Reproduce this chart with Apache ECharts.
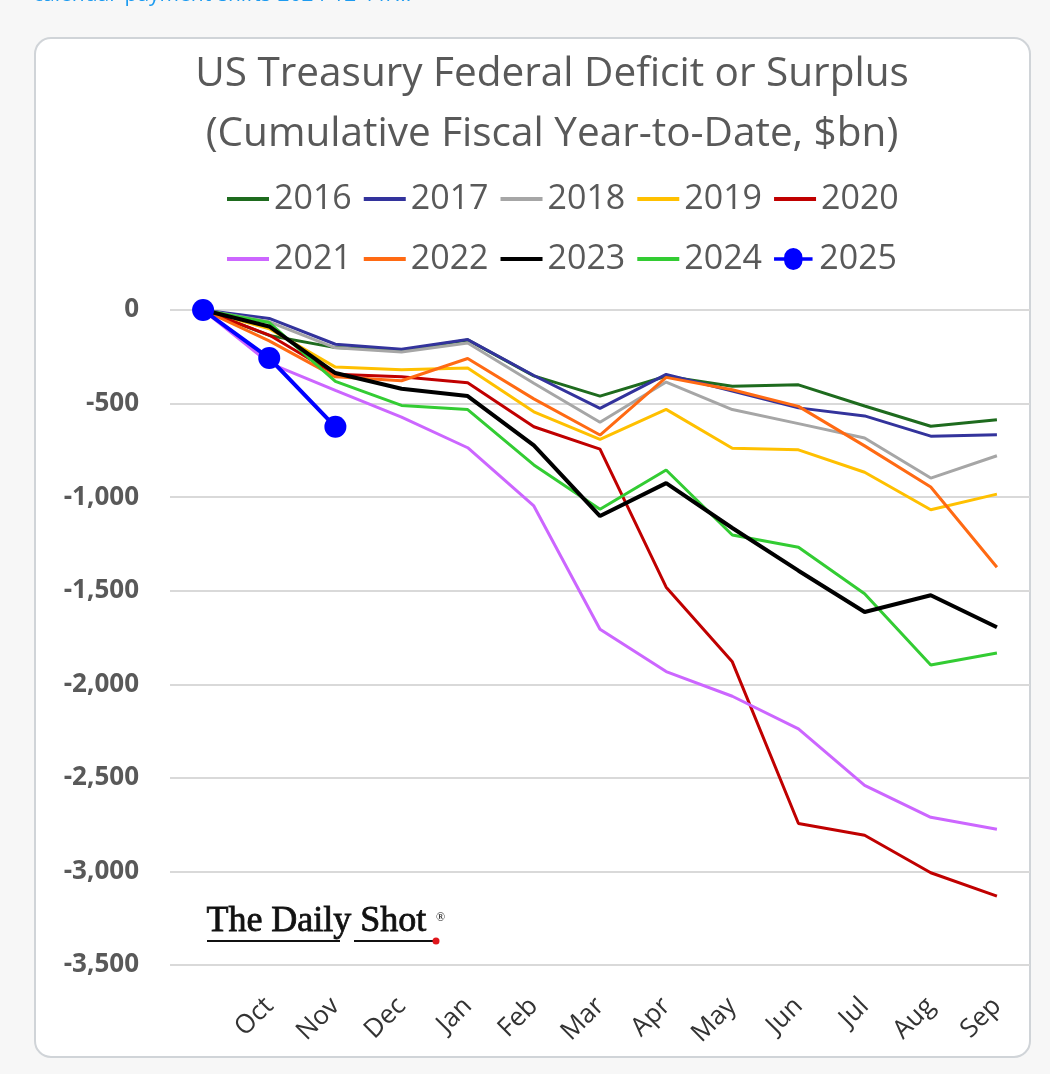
<!DOCTYPE html>
<html><head><meta charset="utf-8">
<script src="https://cdn.jsdelivr.net/npm/echarts@6/dist/echarts.min.js"></script>
<style>html,body{margin:0;padding:0;background:#f7f7f7;}#c{width:1050px;height:1074px;}</style>
</head><body><div id="c"></div>
<script>
var categories = ['', 'Oct', 'Nov', 'Dec', 'Jan', 'Feb', 'Mar', 'Apr', 'May', 'Jun', 'Jul', 'Aug', 'Sep'];
var yTicks = [0, -500, -1000, -1500, -2000, -2500, -3000, -3500];
var years = ['2016','2017','2018','2019','2020','2021','2022','2023','2024','2025'];
var fy2016 = [0, -136, -201, -215, -160, -352, -460, -354, -407, -400, -513, -621, -587];
var fy2017 = [0, -45, -183, -210, -158, -350, -526, -344, -433, -523, -566, -674, -666];
var fy2018 = [0, -63, -202, -225, -176, -391, -600, -385, -532, -607, -684, -898, -779];
var fy2019 = [0, -100, -305, -319, -310, -544, -691, -531, -739, -747, -867, -1067, -984];
var fy2020 = [0, -134, -343, -357, -389, -624, -743, -1481, -1880, -2744, -2807, -3007, -3132];
var fy2021 = [0, -284, -429, -573, -736, -1047, -1706, -1932, -2064, -2238, -2540, -2711, -2775];
var fy2022 = [0, -165, -357, -378, -259, -475, -668, -360, -426, -515, -726, -946, -1375];
var fy2023 = [0, -88, -337, -421, -460, -723, -1101, -925, -1165, -1393, -1614, -1524, -1695];
var fy2024 = [0, -67, -381, -510, -532, -828, -1065, -855, -1202, -1268, -1516, -1897, -1833];
var fy2025 = [0, -257, -624];

var seriesData = [fy2016, fy2017, fy2018, fy2019, fy2020, fy2021, fy2022, fy2023, fy2024, fy2025];
var colors = ['#1e6b1e', '#33339c', '#a6a6a6', '#ffc000', '#c00000', '#cc66ff', '#ff6a13', '#000000', '#33cc33', '#0000ff'];
var widths = [3, 3, 3, 3, 3, 3, 3, 4, 3, 4];

var series = years.map(function (y, i) {
  var isLast = i === years.length - 1;
  return {
    name: y, type: 'line', data: seriesData[i],
    symbol: isLast ? 'circle' : 'none', symbolSize: 22, showSymbol: isLast,
    lineStyle: { color: colors[i], width: widths[i] },
    itemStyle: { color: colors[i] },
    z: isLast ? 10 : (i === 7 ? 6 : 5),
    silent: true
  };
});

// legend icons: a horizontal stroke (with a dot for 2025); zero-length corner segments keep the box 42x22
var lineIcon = 'path://M0,0L0,0M42,22L42,22M0,9L42,9L42,13L0,13Z';
var dotIcon = 'path://M0,0L0,0M42,22L42,22M0,9L11,9A10,10 0 0,1 31,9L42,9L42,13L31,13A10,10 0 0,1 11,13L0,13Z';
function legendItems(list) {
  return list.map(function (y) {
    return { name: y, icon: y === '2025' ? dotIcon : lineIcon };
  });
}

var fontF = '"Open Sans", Lato, sans-serif';
var legendText = { fontFamily: fontF, fontSize: 34, color: '#595959' };
var legendBase = { left: 222, itemWidth: 42, itemHeight: 22, itemGap: 12, textStyle: legendText, selectedMode: false };

var chart = echarts.init(document.getElementById('c'), null, { renderer: 'canvas' });
chart.setOption({
  animation: false,
  backgroundColor: '#f7f7f7',
  graphic: [
    { type: 'text', left: 33, top: -15, style: { text: 'calendar-payment-shifts-2024-12-11/...', fontSize: 21, fontFamily: fontF, fill: '#1d9bf0' }, z: 0 },
    { type: 'rect', shape: { x: 35, y: 38, width: 995, height: 1019, r: 16 }, style: { fill: '#ffffff', stroke: '#d0d4d8', lineWidth: 2 }, z: -10 },
    { type: 'text', left: 206, top: 903, style: { text: 'The Daily Shot', fontSize: 36, fontFamily: '"Liberation Serif", "DejaVu Serif", serif', fill: '#111111', stroke: '#111111', lineWidth: 0.8 }, z: 20 },
    { type: 'text', left: 436, top: 912, style: { text: '®', fontSize: 12, fontFamily: '"Liberation Serif", serif', fill: '#111111' }, z: 20 },
    { type: 'line', shape: { x1: 207, y1: 941, x2: 340, y2: 941 }, style: { stroke: '#111', lineWidth: 2 }, z: 20 },
    { type: 'line', shape: { x1: 354, y1: 941, x2: 434, y2: 941 }, style: { stroke: '#111', lineWidth: 2 }, z: 20 },
    { type: 'circle', shape: { cx: 436, cy: 941, r: 3.5 }, style: { fill: '#e0161c' }, z: 21 }
  ],
  title: {
    text: 'US Treasury Federal Deficit or Surplus\n(Cumulative Fiscal Year-to-Date, $bn)',
    left: 547, top: 39, textAlign: 'center',
    textStyle: { fontFamily: fontF, fontSize: 40.5, fontWeight: 'normal', color: '#595959', lineHeight: 60 }
  },
  legend: [
    Object.assign({ data: legendItems(years.slice(0, 5)), top: 177 }, legendBase),
    Object.assign({ data: legendItems(years.slice(5)), top: 237 }, legendBase)
  ],
  grid: { left: 170, right: 20, top: 310, bottom: 109, containLabel: false },
  xAxis: {
    type: 'category', data: categories, boundaryGap: true,
    axisLine: { show: false, onZero: false }, axisTick: { show: false },
    axisLabel: { rotate: 45, margin: 37, fontFamily: fontF, fontSize: 26, color: '#333333', interval: 0 }
  },
  yAxis: {
    type: 'value', min: -3500, max: 0, interval: 500,
    axisLine: { show: false }, axisTick: { show: false },
    axisLabel: { margin: 31, fontFamily: fontF, fontSize: 26, fontWeight: 'bold', color: '#595959',
      formatter: function (v) { return v === 0 ? '0' : '-' + Math.abs(v).toLocaleString('en-US'); } },
    splitLine: { lineStyle: { color: '#d9d9d9', width: 2 } }
  },
  series: series
});
</script></body></html>
